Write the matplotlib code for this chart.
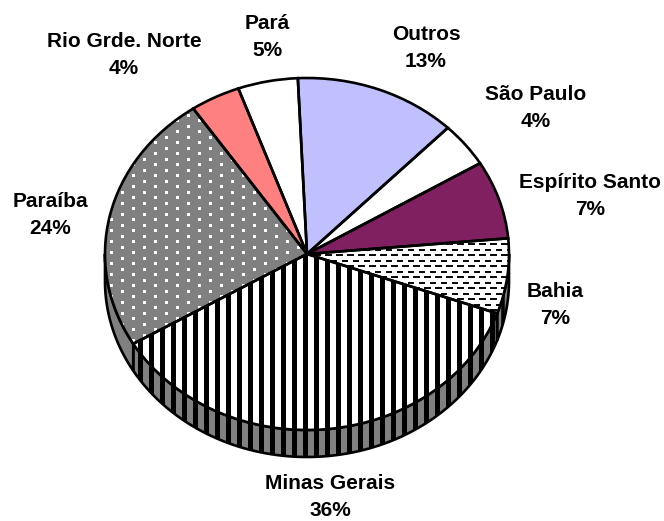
import numpy as np
import matplotlib
matplotlib.use("Agg")
import matplotlib.pyplot as plt
from matplotlib.patches import Polygon
from matplotlib.collections import LineCollection

# ==============================
# DATA
# ==============================
states = ["Outros", "São Paulo", "Espírito Santo", "Bahia",
          "Minas Gerais", "Paraíba", "Rio Grde. Norte", "Pará"]
shares = [13.0, 4.1, 7.2, 6.9, 36.0, 24.0, 4.0, 4.8]
pct_labels = ["13%", "4%", "7%", "7%", "36%", "24%", "4%", "5%"]

# ==============================
# LAYOUT (pixels of the 664x521 picture)
# ==============================
W, H = 664, 521
CX, CY = 307, 254
RX, RY = 202, 176
DEPTH = 27
LW = 1.9
START = 92.6
label_xy = [(426, 48), (536, 108), (590, 196), (555, 305),
            (330, 497), (50, 215), (124, 55), (267, 37)]
colors = ["#C0C0FF", "white", "#802060", "white",
          "white", "#808080", "#FF8080", "white"]
GREY = "#808080"

plt.rcParams["font.family"] = ["Liberation Sans", "DejaVu Sans"]


def dx(px):
    return (np.asarray(px, dtype=float) - CX) / RX


def dy(py):
    return (CY - np.asarray(py, dtype=float)) / RY


fig = plt.figure(figsize=(W / 100, H / 100), dpi=100)
ax = fig.add_axes([0, 0, 1, 1])

wedges, _ = ax.pie(shares, colors=colors, startangle=START, counterclock=False,
                   radius=1, wedgeprops={"linewidth": 0, "zorder": 3})
ax.set_aspect("auto")
ax.set_xlim(dx(0), dx(W))
ax.set_ylim(dy(H), dy(0))
ax.axis("off")


# ==============================
# TEXTURES
# ==============================
def stripes(clip, zorder, lw=5.0):
    xs = np.arange(8, W, 11)
    segs = [[(dx(x), dy(0)), (dx(x), dy(H))] for x in xs]
    lc = LineCollection(segs, colors="black", linewidths=lw * 0.72,
                        zorder=zorder)
    ax.add_collection(lc)
    lc.set_clip_path(clip)


def dots(clip, zorder):
    xs, ys = [], []
    for i, x in enumerate(np.arange(1.5, W, 11)):
        col = np.arange(5.5 if i % 2 else 10.5, H, 11)
        xs.extend([x] * len(col))
        ys.extend(col)
    pts = ax.scatter(dx(xs), dy(ys), s=(3 * 0.72) ** 2, marker="s", c="white",
                     linewidths=0, zorder=zorder)
    pts.set_snap(False)
    pts.set_clip_path(clip)


def dashes(clip, zorder, lw=1.9):
    segs = []
    for j, y in enumerate(np.arange(2.5, H, 5.5)):
        for x in np.arange(5.5 * (j % 2) + 6.5 - 11, W, 11):
            segs.append([(dx(x), dy(y)), (dx(x + 6.5), dy(y))])
    lc = LineCollection(segs, colors="black", linewidths=lw * 0.72,
                        zorder=zorder)
    ax.add_collection(lc)
    lc.set_clip_path(clip)


# ==============================
# SIDE WALL
# ==============================
drop = DEPTH / RY
for i, w in enumerate(wedges):
    t1, t2 = w.theta1 % 360, w.theta2 % 360
    if t2 < t1:
        t2 += 360
    lo = max(t1, 180)
    hi = min(t2, 360)
    if hi <= lo:
        continue
    th = np.radians(np.linspace(lo, hi, 80))
    top = np.column_stack([np.cos(th), np.sin(th)])
    bot = top[::-1] - [0, drop]
    poly = Polygon(np.vstack([top, bot]), closed=True, fc=GREY, ec="none", zorder=1)
    ax.add_patch(poly)
    if states[i] == "Minas Gerais":
        stripes(poly, 1.5)
    elif states[i] == "Bahia":
        stripes(poly, 1.5, lw=3.5)
    edge = Polygon(np.vstack([top, bot]), closed=True, fc="none", ec="black",
                   lw=LW, zorder=2)
    ax.add_patch(edge)

# ==============================
# TOP FACE
# ==============================
dashes(wedges[states.index("Bahia")], 3.5)
stripes(wedges[states.index("Minas Gerais")], 3.5)
dots(wedges[states.index("Paraíba")], 3.5)

ax.pie(shares, colors=["none"] * len(shares), startangle=START, counterclock=False,
       radius=1, wedgeprops={"linewidth": LW, "edgecolor": "black", "zorder": 4})
ax.set_aspect("auto")
ax.set_xlim(dx(0), dx(W))
ax.set_ylim(dy(H), dy(0))
ax.axis("off")

# ==============================
# LABELS
# ==============================
for name, pct, (x, y) in zip(states, pct_labels, label_xy):
    ax.text(dx(x), dy(y), f"{name}\n{pct}", ha="center", va="center",
            fontsize=15, fontweight="bold", linespacing=1.5, color="black",
            zorder=6)

fig.savefig("out.png", dpi=100)
